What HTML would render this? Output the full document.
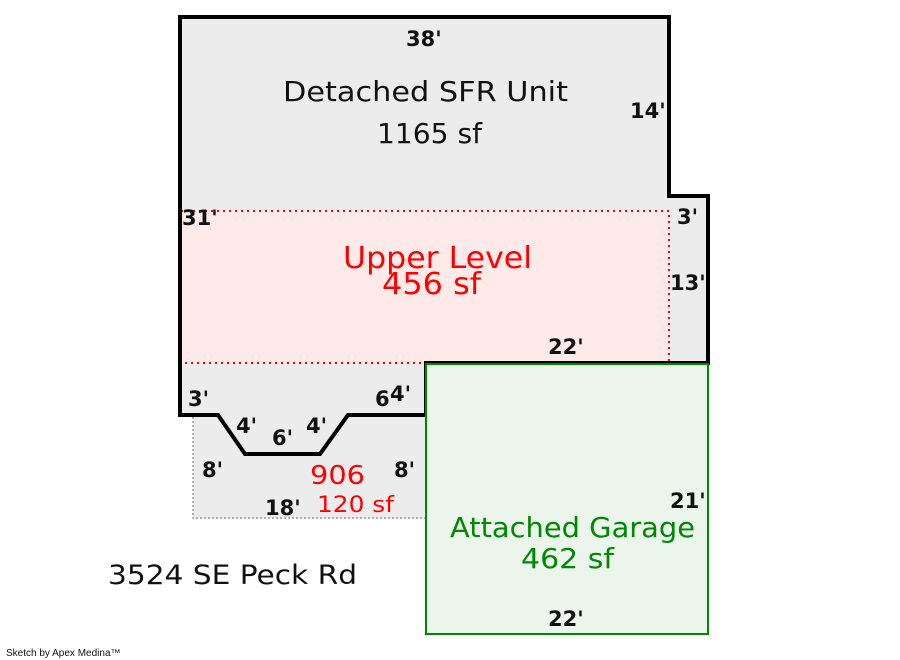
<!DOCTYPE html>
<html><head><style>body{margin:0;background:#fff}svg{display:block}</style></head><body>
<svg width="900" height="660" xmlns="http://www.w3.org/2000/svg" font-family="DejaVu Sans, Liberation Sans, sans-serif">
<rect x="193" y="415" width="233" height="103" fill="#ececec" stroke="#999" stroke-width="1.5" stroke-dasharray="2,2"/>
<polygon points="180,17 669,17 669,196 708,196 708,363 426,363 426,415 348,415 320,454 245,454 218,415 180,415" fill="#ececec"/>
<rect x="181" y="211" width="488" height="152" fill="#ffeaea" stroke="#f00" stroke-width="2" stroke-dasharray="2,4"/>
<polygon points="180,17 669,17 669,196 708,196 708,363 426,363 426,415 348,415 320,454 245,454 218,415 180,415" fill="none" stroke="#000" stroke-width="4"/>
<rect x="426" y="364" width="282" height="270" fill="#ecf5ec" stroke="#080" stroke-width="2"/>
<g font-weight="bold" font-size="21" fill="#111">
<text x="406" y="46">38'</text><text x="630" y="118">14'</text>
<text x="182" y="225">31'</text><text x="677" y="224">3'</text><text x="670" y="290">13'</text>
<text x="548" y="354">22'</text><text x="188" y="406">3'</text><text x="375" y="406">6</text><text x="390" y="401">4'</text>
<text x="236" y="433">4'</text><text x="306" y="433">4'</text><text x="272" y="445">6'</text>
<text x="202" y="477">8'</text><text x="394" y="477">8'</text><text x="265" y="515">18'</text>
<text x="670" y="508">21'</text><text x="548" y="626">22'</text>
</g>
<g font-size="28" fill="#111">
<text x="283" y="101" textLength="285" lengthAdjust="spacingAndGlyphs">Detached SFR Unit</text>
<text x="377" y="143" textLength="105" lengthAdjust="spacingAndGlyphs">1165 sf</text>
</g>
<g fill="#f00" font-size="30">
<text x="343" y="268" textLength="189" lengthAdjust="spacingAndGlyphs">Upper Level</text>
<text x="382" y="294" textLength="99" lengthAdjust="spacingAndGlyphs">456 sf</text>
<text x="310" y="484" font-size="26" textLength="55" lengthAdjust="spacingAndGlyphs">906</text>
<text x="317" y="512" font-size="22" textLength="77" lengthAdjust="spacingAndGlyphs">120 sf</text>
</g>
<g fill="#080" font-size="28">
<text x="450" y="537" textLength="245" lengthAdjust="spacingAndGlyphs">Attached Garage</text>
<text x="521" y="568" textLength="93" lengthAdjust="spacingAndGlyphs">462 sf</text>
</g>
<text x="108" y="584" font-size="27" fill="#111" textLength="249" lengthAdjust="spacingAndGlyphs">3524 SE Peck Rd</text>
<text x="6" y="656" font-size="10" fill="#111" font-family="Liberation Sans, sans-serif">Sketch by Apex Medina™</text>
</svg>
</body></html>
